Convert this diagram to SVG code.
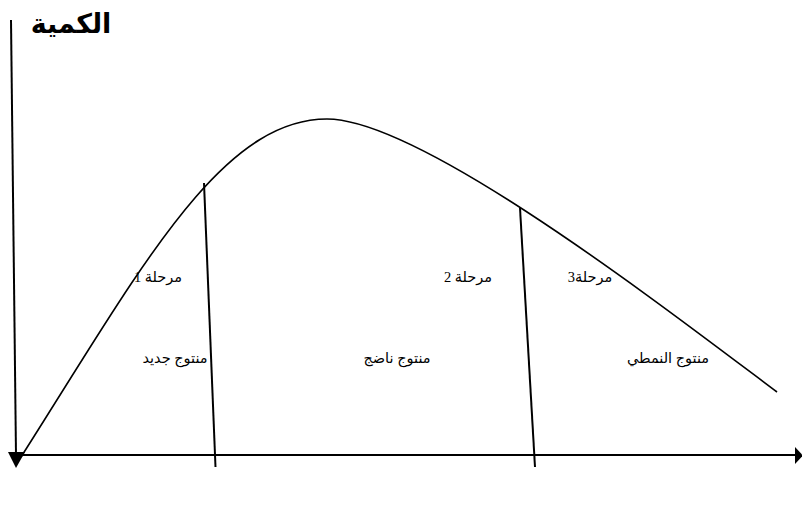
<svg xmlns="http://www.w3.org/2000/svg" width="802" height="507" viewBox="0 0 802 507">
<style>
.ax{stroke:#000;stroke-width:2;fill:none}
.cv{stroke:#000;stroke-width:1.6;fill:none}
.dv{stroke:#000;stroke-width:2;fill:none}
.lb{font-family:"Liberation Serif","DejaVu Sans",serif;font-size:14.5px;fill:#000}
.tt{font-family:"Liberation Serif","DejaVu Sans",serif;font-size:27px;font-weight:bold;fill:#000}
</style>
<rect width="802" height="507" fill="#fff"/>
<g id="axes">
<line class="ax" x1="11" y1="20" x2="16" y2="455"/>
<polygon points="8,452 25,452 16,468" fill="#000"/>
<line class="ax" x1="16" y1="455" x2="797" y2="455"/>
<polygon points="795,447 795,464 803,455.5" fill="#000"/>
</g>
<g id="curve">
<path class="cv" d="M21,457 C140,270 220,119 327,119 C420,119 657,302 777,392"/>
</g>
<g id="connectors">
<line class="dv" x1="204" y1="183" x2="215.5" y2="467"/>
<line class="dv" x1="520" y1="208" x2="535" y2="467"/>
</g>
<g id="title"><text class="tt" x="71" y="33" text-anchor="middle" direction="rtl">الكمية</text></g>
<g id="stage1"><text class="lb" x="158" y="282" text-anchor="middle" direction="rtl">مرحلة 1</text></g>
<g id="stage2"><text class="lb" x="468" y="282" text-anchor="middle" direction="rtl">مرحلة 2</text></g>
<g id="stage3"><text class="lb" x="590" y="282" text-anchor="middle" direction="rtl">مرحلة3</text></g>
<g id="new"><text class="lb" x="175" y="363" text-anchor="middle" direction="rtl">منتوج جديد</text></g>
<g id="mature"><text class="lb" x="397" y="363" text-anchor="middle" direction="rtl">منتوج ناضج</text></g>
<g id="standard"><text class="lb" x="668" y="363" text-anchor="middle" direction="rtl">منتوج النمطي</text></g>
</svg>
